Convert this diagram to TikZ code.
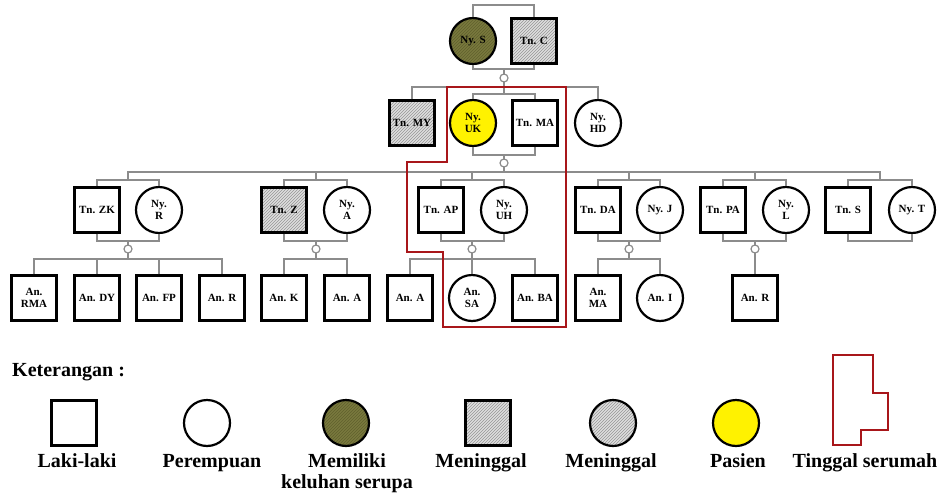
\documentclass[tikz,border=0pt]{standalone}
\usepackage{fontspec}
\setmainfont{Liberation Serif}
\usetikzlibrary{patterns}
\definecolor{linkgray}{RGB}{140,140,140}
\definecolor{deadgray}{RGB}{222,222,222}
\definecolor{hatchgray}{RGB}{150,150,150}
\definecolor{olivefill}{RGB}{122,122,62}
\definecolor{olivehatch}{RGB}{96,96,44}
\definecolor{housered}{RGB}{168,22,26}
\newcommand{\pedfont}{\fontsize{11}{12.5}\selectfont\bfseries}
\newcommand{\keyfont}{\fontsize{20}{21}\selectfont\bfseries}
\tikzset{
    male/.style = {rectangle, draw, line width=2.2pt, minimum size=45pt, inner sep=0pt, align=center, font=\pedfont},
    female/.style = {circle, draw, line width=2.2pt, minimum size=46pt, inner sep=0pt, align=center, font=\pedfont},
    dead/.style = {preaction={fill=deadgray}, pattern=north east lines, pattern color=hatchgray},
    affected/.style = {preaction={fill=olivefill}, pattern=north east lines, pattern color=olivehatch},
    patient/.style = {fill=yellow},
    link/.style = {draw=linkgray, line width=1.6pt},
    knot/.style = {circle, draw=linkgray, fill=white, line width=1.2pt, minimum size=8pt, inner sep=0pt},
    house/.style = {draw=housered, line width=2.6pt, line join=miter},
    keytext/.style = {font=\keyfont, inner sep=0pt}
}

\begin{document}
\begin{tikzpicture}[x=1pt, y=-1pt]
    \useasboundingbox (0,0) rectangle (943,493);

    % Nodes
    % generation I
    \node [female, affected] (nyS) at (473,41) {Ny. S};
    \node [male, dead] (tnC) at (534,41) {Tn. C};
    % generation II
    \node [male, dead] (tnMY) at (412,123) {Tn. MY};
    \node [female, patient] (nyUK) at (473,123) {Ny.\\UK};
    \node [male] (tnMA) at (535,123) {Tn. MA};
    \node [female] (nyHD) at (598,123) {Ny.\\HD};
    % generation III
    \node [male] (tnZK) at (97,210) {Tn. ZK};
    \node [female] (nyR) at (159,210) {Ny.\\R};
    \node [male, dead] (tnZ) at (284,210) {Tn. Z};
    \node [female] (nyA) at (347,210) {Ny.\\A};
    \node [male] (tnAP) at (441,210) {Tn. AP};
    \node [female] (nyUH) at (504,210) {Ny.\\UH};
    \node [male] (tnDA) at (598,210) {Tn. DA};
    \node [female] (nyJ) at (660,210) {Ny. J};
    \node [male] (tnPA) at (723,210) {Tn. PA};
    \node [female] (nyL) at (786,210) {Ny.\\L};
    \node [male] (tnS) at (848,210) {Tn. S};
    \node [female] (nyT) at (912,210) {Ny. T};
    % generation IV
    \node [male] (anRMA) at (34,298) {An.\\RMA};
    \node [male] (anDY) at (97,298) {An. DY};
    \node [male] (anFP) at (159,298) {An. FP};
    \node [male] (anR) at (222,298) {An. R};
    \node [male] (anK) at (284,298) {An. K};
    \node [male] (anA) at (347,298) {An. A};
    \node [male] (anAb) at (410,298) {An. A};
    \node [female] (anSA) at (472,298) {An.\\SA};
    \node [male] (anBA) at (535,298) {An. BA};
    \node [male] (anMA) at (598,298) {An.\\MA};
    \node [female] (anI) at (660,298) {An. I};
    \node [male] (anRb) at (755,298) {An. R};

    % Coordinates of the bars
    \coordinate (t1) at (504,5);
    \coordinate (m1) at (504,69);
    \coordinate (sib2) at (504,87);
    \coordinate (t2) at (504,94);
    \coordinate (m2) at (504,155);
    \coordinate (sib3) at (504,172);
    \coordinate (t31) at (128,180);
    \coordinate (t32) at (316,180);
    \coordinate (t33) at (472,180);
    \coordinate (t34) at (629,180);
    \coordinate (t35) at (755,180);
    \coordinate (t36) at (880,180);
    \coordinate (m31) at (128,241);
    \coordinate (m32) at (316,241);
    \coordinate (m33) at (472,241);
    \coordinate (m34) at (629,241);
    \coordinate (m35) at (755,241);
    \coordinate (m36) at (880,241);
    \coordinate (sib41) at (128,259);
    \coordinate (sib42) at (316,259);
    \coordinate (sib43) at (472,259);
    \coordinate (sib44) at (629,259);

    % Edges
    \draw [link] (nyS.north) |- (t1) -| (tnC.north);
    \draw [link] (nyS.south) |- (m1) -| (tnC.south);
    \draw [link] (m1) -- (sib2);
    \draw [link] (tnMY.north) |- (sib2) -| (nyHD.north);
    \draw [link] (nyUK.north) |- (t2) -| (tnMA.north);
    \draw [link] (t2) -- (sib2);
    \draw [link] (nyUK.south) |- (m2) -| (tnMA.south);
    \draw [link] (m2) -- (sib3);
    \draw [link] (t31) |- (sib3) -| (t36);
    \foreach \c in {t32,t33,t34,t35}
        \draw [link] (\c) -- (\c |- sib3);
    \draw [link] (tnZK.north) |- (t31) -| (nyR.north);
    \draw [link] (tnZ.north) |- (t32) -| (nyA.north);
    \draw [link] (tnAP.north) |- (t33) -| (nyUH.north);
    \draw [link] (tnDA.north) |- (t34) -| (nyJ.north);
    \draw [link] (tnPA.north) |- (t35) -| (nyL.north);
    \draw [link] (tnS.north) |- (t36) -| (nyT.north);
    \draw [link] (tnZK.south) |- (m31) -| (nyR.south);
    \draw [link] (tnZ.south) |- (m32) -| (nyA.south);
    \draw [link] (tnAP.south) |- (m33) -| (nyUH.south);
    \draw [link] (tnDA.south) |- (m34) -| (nyJ.south);
    \draw [link] (tnPA.south) |- (m35) -| (nyL.south);
    \draw [link] (tnS.south) |- (m36) -| (nyT.south);
    \draw [link] (m31) -- (sib41);
    \draw [link] (m32) -- (sib42);
    \draw [link] (m33) -- (anSA.north);
    \draw [link] (m34) -- (sib44);
    \draw [link] (m35) -- (anRb.north);
    \draw [link] (anRMA.north) |- (sib41) -| (anR.north);
    \foreach \n in {anDY,anFP}
        \draw [link] (\n.north) -- (\n.north |- sib41);
    \draw [link] (anK.north) |- (sib42) -| (anA.north);
    \draw [link] (anAb.north) |- (sib43) -| (anBA.north);
    \draw [link] (anMA.north) |- (sib44) -| (anI.north);

    % marriage knots
    \node [knot] (k1) at (504,78) {};
    \node [knot] (k2) at (504,163) {};
    \node [knot] (k31) at (128,249) {};
    \node [knot] (k32) at (316,249) {};
    \node [knot] (k33) at (472,249) {};
    \node [knot] (k34) at (629,249) {};
    \node [knot] (k35) at (755,249) {};

    % living together
    \draw [house] (447,87) -- (566,87) -- (566,327) -- (443,327) -- (443,252)
        -- (407,252) -- (407,162) -- (447,162) -- cycle;

    % Legend
    \node [keytext, anchor=base west] (keyTitle) at (12,376) {Keterangan :};
    \node [male] (keyMale) at (74,423) {};
    \node [female] (keyFemale) at (207,423) {};
    \node [female, affected] (keyAffected) at (346,423) {};
    \node [male, dead] (keyDeadMale) at (488,423) {};
    \node [female, dead] (keyDeadFemale) at (613,423) {};
    \node [female, patient] (keyPatient) at (736,423) {};
    \draw [house, line width=2pt] (833,355) -- (873,355) -- (873,393) -- (888,393)
        -- (888,430) -- (861,430) -- (861,445) -- (833,445) -- cycle;
    \node [keytext, anchor=base] (lblMale) at (77,467) {Laki-laki};
    \node [keytext, anchor=base] (lblFemale) at (212,467) {Perempuan};
    \node [keytext, anchor=base, align=center] (lblAffected) at (347,488) {Memiliki\\keluhan serupa};
    \node [keytext, anchor=base] (lblDeadMale) at (481,467) {Meninggal};
    \node [keytext, anchor=base] (lblDeadFemale) at (611,467) {Meninggal};
    \node [keytext, anchor=base] (lblPatient) at (738,467) {Pasien};
    \node [keytext, anchor=base] (lblHouse) at (865,467) {Tinggal serumah};

\end{tikzpicture}
\end{document}
